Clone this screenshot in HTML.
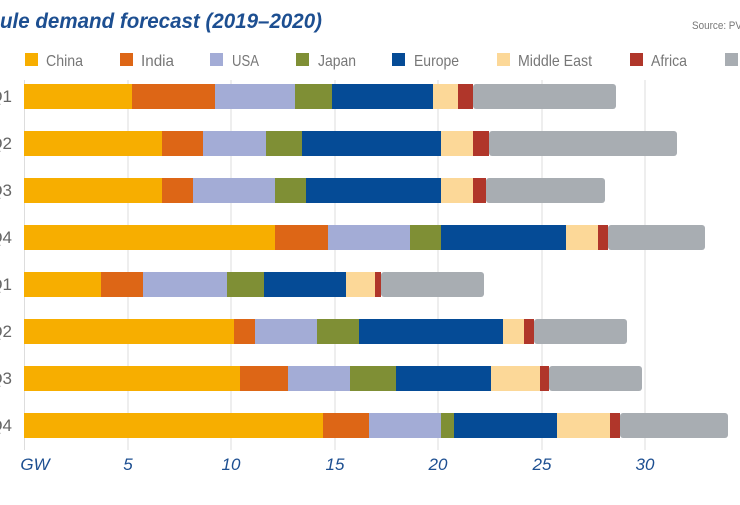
<!DOCTYPE html>
<html><head><style>
body{margin:0;width:740px;height:500px;background:#fff;overflow:hidden;font-family:"Liberation Sans",sans-serif}
</style></head><body>
<svg width="740" height="500" xmlns="http://www.w3.org/2000/svg" font-family="Liberation Sans, sans-serif">
<text x="0" y="28" font-size="21" font-weight="bold" font-style="italic" fill="#1d4f91" textLength="322" lengthAdjust="spacingAndGlyphs">ule demand forecast (2019–2020)</text>
<text x="692" y="29" font-size="11" fill="#777" textLength="50" lengthAdjust="spacingAndGlyphs">Source: PV</text>
<g font-size="16" fill="#777">
<rect x="25" y="53" width="13" height="13" fill="#f7ae00"/><text x="46" y="66" textLength="37" lengthAdjust="spacingAndGlyphs">China</text>
<rect x="120" y="53" width="13" height="13" fill="#dd6616"/><text x="141" y="66" textLength="33" lengthAdjust="spacingAndGlyphs">India</text>
<rect x="210" y="53" width="13" height="13" fill="#a3acd6"/><text x="232" y="66" textLength="27" lengthAdjust="spacingAndGlyphs">USA</text>
<rect x="296" y="53" width="13" height="13" fill="#7f8f35"/><text x="318" y="66" textLength="38" lengthAdjust="spacingAndGlyphs">Japan</text>
<rect x="392" y="53" width="13" height="13" fill="#054b96"/><text x="414" y="66" textLength="45" lengthAdjust="spacingAndGlyphs">Europe</text>
<rect x="497" y="53" width="13" height="13" fill="#fcd898"/><text x="518" y="66" textLength="74" lengthAdjust="spacingAndGlyphs">Middle East</text>
<rect x="630" y="53" width="13" height="13" fill="#b0362a"/><text x="651" y="66" textLength="36" lengthAdjust="spacingAndGlyphs">Africa</text>
<rect x="725" y="53" width="13" height="13" fill="#a8adb2"/>
</g>
<g stroke="#ddd" stroke-width="1">
<line x1="24.5" y1="80" x2="24.5" y2="450"/><line x1="128" y1="80" x2="128" y2="450"/><line x1="231" y1="80" x2="231" y2="450"/><line x1="335" y1="80" x2="335" y2="450"/><line x1="438" y1="80" x2="438" y2="450"/><line x1="542" y1="80" x2="542" y2="450"/><line x1="645" y1="80" x2="645" y2="450"/>
</g>
<g>
<g transform="translate(0,84)">
<rect x="24" width="108" height="25" fill="#f7ae00"/><rect x="132" width="83" height="25" fill="#dd6616"/><rect x="215" width="80" height="25" fill="#a3acd6"/><rect x="295" width="37" height="25" fill="#7f8f35"/><rect x="332" width="101" height="25" fill="#054b96"/><rect x="433" width="25" height="25" fill="#fcd898"/><rect x="458" width="15" height="25" fill="#b0362a"/><rect x="473" width="143" height="25" fill="#a8adb2" rx="3"/>
</g>
<g transform="translate(0,131)">
<rect x="24" width="138" height="25" fill="#f7ae00"/><rect x="162" width="41" height="25" fill="#dd6616"/><rect x="203" width="63" height="25" fill="#a3acd6"/><rect x="266" width="36" height="25" fill="#7f8f35"/><rect x="302" width="139" height="25" fill="#054b96"/><rect x="441" width="32" height="25" fill="#fcd898"/><rect x="473" width="16" height="25" fill="#b0362a"/><rect x="489" width="188" height="25" fill="#a8adb2" rx="3"/>
</g>
<g transform="translate(0,178)">
<rect x="24" width="138" height="25" fill="#f7ae00"/><rect x="162" width="31" height="25" fill="#dd6616"/><rect x="193" width="82" height="25" fill="#a3acd6"/><rect x="275" width="31" height="25" fill="#7f8f35"/><rect x="306" width="135" height="25" fill="#054b96"/><rect x="441" width="32" height="25" fill="#fcd898"/><rect x="473" width="13" height="25" fill="#b0362a"/><rect x="486" width="119" height="25" fill="#a8adb2" rx="3"/>
</g>
<g transform="translate(0,225)">
<rect x="24" width="251" height="25" fill="#f7ae00"/><rect x="275" width="53" height="25" fill="#dd6616"/><rect x="328" width="82" height="25" fill="#a3acd6"/><rect x="410" width="31" height="25" fill="#7f8f35"/><rect x="441" width="125" height="25" fill="#054b96"/><rect x="566" width="32" height="25" fill="#fcd898"/><rect x="598" width="10" height="25" fill="#b0362a"/><rect x="608" width="97" height="25" fill="#a8adb2" rx="3"/>
</g>
<g transform="translate(0,272)">
<rect x="24" width="77" height="25" fill="#f7ae00"/><rect x="101" width="42" height="25" fill="#dd6616"/><rect x="143" width="84" height="25" fill="#a3acd6"/><rect x="227" width="37" height="25" fill="#7f8f35"/><rect x="264" width="82" height="25" fill="#054b96"/><rect x="346" width="29" height="25" fill="#fcd898"/><rect x="375" width="6" height="25" fill="#b0362a"/><rect x="381" width="103" height="25" fill="#a8adb2" rx="3"/>
</g>
<g transform="translate(0,319)">
<rect x="24" width="210" height="25" fill="#f7ae00"/><rect x="234" width="21" height="25" fill="#dd6616"/><rect x="255" width="62" height="25" fill="#a3acd6"/><rect x="317" width="42" height="25" fill="#7f8f35"/><rect x="359" width="144" height="25" fill="#054b96"/><rect x="503" width="21" height="25" fill="#fcd898"/><rect x="524" width="10" height="25" fill="#b0362a"/><rect x="534" width="93" height="25" fill="#a8adb2" rx="3"/>
</g>
<g transform="translate(0,366)">
<rect x="24" width="216" height="25" fill="#f7ae00"/><rect x="240" width="48" height="25" fill="#dd6616"/><rect x="288" width="62" height="25" fill="#a3acd6"/><rect x="350" width="46" height="25" fill="#7f8f35"/><rect x="396" width="95" height="25" fill="#054b96"/><rect x="491" width="49" height="25" fill="#fcd898"/><rect x="540" width="9" height="25" fill="#b0362a"/><rect x="549" width="93" height="25" fill="#a8adb2" rx="3"/>
</g>
<g transform="translate(0,413)">
<rect x="24" width="299" height="25" fill="#f7ae00"/><rect x="323" width="46" height="25" fill="#dd6616"/><rect x="369" width="72" height="25" fill="#a3acd6"/><rect x="441" width="13" height="25" fill="#7f8f35"/><rect x="454" width="103" height="25" fill="#054b96"/><rect x="557" width="53" height="25" fill="#fcd898"/><rect x="610" width="10" height="25" fill="#b0362a"/><rect x="620" width="108" height="25" fill="#a8adb2" rx="3"/>
</g>
</g>
<g font-size="17" fill="#666">
<text x="12" y="102" text-anchor="end">Q1</text><text x="12" y="149" text-anchor="end">Q2</text><text x="12" y="196" text-anchor="end">Q3</text><text x="12" y="243" text-anchor="end">Q4</text>
<text x="12" y="290" text-anchor="end">Q1</text><text x="12" y="337" text-anchor="end">Q2</text><text x="12" y="384" text-anchor="end">Q3</text><text x="12" y="431" text-anchor="end">Q4</text>
</g>
<g font-size="17" font-style="italic" fill="#1d4f91" text-anchor="middle">
<text x="35" y="470">GW</text><text x="128" y="470">5</text><text x="231" y="470">10</text><text x="335" y="470">15</text><text x="438" y="470">20</text><text x="542" y="470">25</text><text x="645" y="470">30</text>
</g>
</svg>
</body></html>
